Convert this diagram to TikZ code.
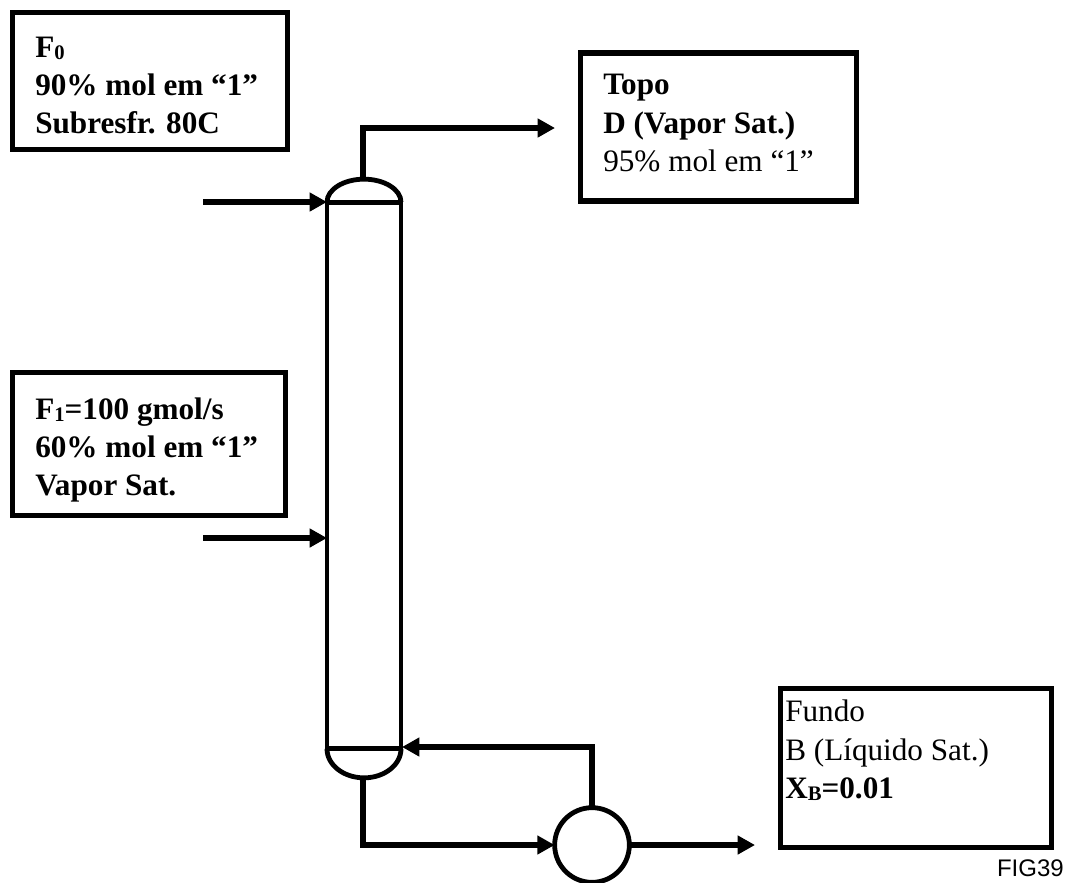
\documentclass[tikz,border=0pt]{standalone}
\usepackage{fontspec}
\setmainfont{Liberation Serif}
\setsansfont{Liberation Sans}
\usetikzlibrary{arrows.meta,calc}
\newcommand{\firstline}{\rule{0pt}{20pt}}
\newcommand{\lowsub}[1]{\raisebox{-1.6pt}{\fontsize{15.5}{15.5}\selectfont #1}}
\tikzset{
  x=0.75pt,y=-0.75pt,
  infobox/.style={draw,line width=4.2pt,rectangle,inner sep=0pt,outer sep=0pt},
  infotext/.style={anchor=north west,inner sep=0pt,align=left,font=\fontsize{23.4}{28.6}\selectfont},
  unit/.style={draw,line width=3.6pt,inner sep=0pt,outer sep=0pt},
  flow/.style={line width=4pt,-{Triangle[length=13pt,width=13.5pt]},line join=miter},
}
\begin{document}
\begin{tikzpicture}
\useasboundingbox (0,0) rectangle (1069,882);
% boxes
\node[infobox,minimum width=206pt,minimum height=103pt] (f0box) at (150,81) {};
\node[infobox,minimum width=205pt,minimum height=107.5pt] (f1box) at (149,444) {};
\node[infobox,minimum width=207pt,minimum height=111pt] (topbox) at (718.5,127) {};
\node[infobox,minimum width=203pt,minimum height=119pt] (botbox) at (916,768) {};
\node[infotext] (f0text) at (35,30.5) {\firstline\textbf{F\lowsub{0}}\\\textbf{90\% mol em “1”}\\\textbf{Subresfr. 80C}};
\node[infotext] (f1text) at (35,392.5) {\firstline\textbf{F\lowsub{1}=100 gmol/s}\\\textbf{60\% mol em “1”}\\\textbf{Vapor Sat.}};
\node[infotext] (toptext) at (603,68) {\firstline\textbf{Topo}\\\textbf{D (Vapor Sat.)}\\95\% mol em “1”};
\node[infotext] (bottext) at (785,695) {\firstline Fundo\\B (Líquido Sat.)\\\textbf{X\lowsub{B}=0.01}};
\node[anchor=east,inner sep=0pt,font=\sffamily\fontsize{18}{20}\selectfont] (figlabel) at (1064,868) {FIG39};
% column
\node[unit,minimum width=55.5pt,minimum height=410pt] (col) at (364,475.5) {};
\draw[unit] (col.north west) arc[start angle=180,end angle=0,x radius=37,y radius=-23];
\draw[unit] (col.south west) arc[start angle=180,end angle=360,x radius=37,y radius=-29];
\coordinate (captop) at (363,181);
\coordinate (capbot) at (363,776);
% reboiler
\node[unit,circle,minimum size=56pt] (reb) at (592,845) {};
% free ends
\coordinate (f0in) at (203,202);
\coordinate (f1in) at (203,538);
\coordinate (topout) at (555,128);
\coordinate (botout) at (755,845);
\coordinate (f0tip) at (327,202);
\coordinate (f1tip) at (327,538);
\coordinate (rettip) at (402,747);
% connectors
\draw[flow] (f0in) -- (f0tip);
\draw[flow] (f1in) -- (f1tip);
\draw[flow] (captop) |- (topout);
\draw[flow] (capbot) |- (reb.west);
\draw[flow] (reb.north) |- (rettip);
\draw[flow] (reb.east) -- (botout);
\end{tikzpicture}
\end{document}
